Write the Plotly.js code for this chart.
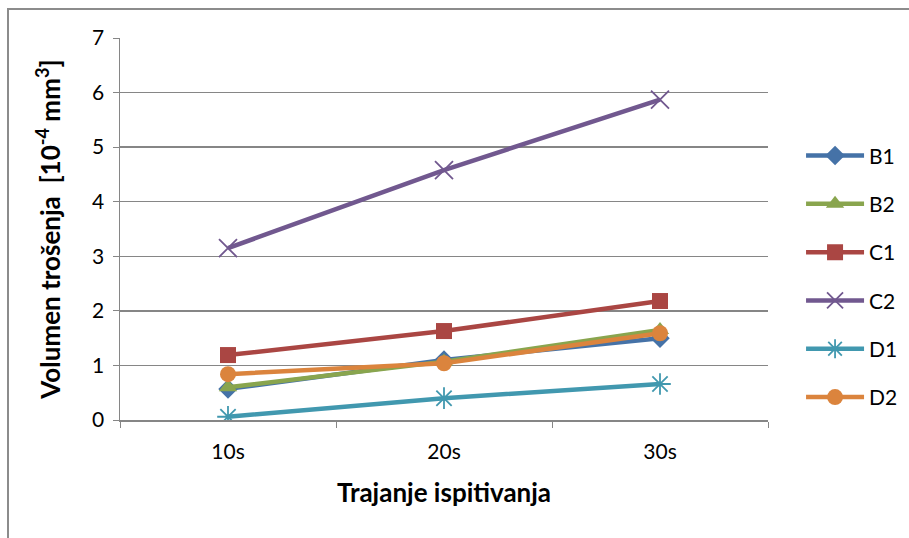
<!DOCTYPE html>
<html>
<head>
<meta charset="utf-8">
<script src="https://cdn.plot.ly/plotly-3.0.1.min.js"></script>
<style>
html,body{margin:0;padding:0;background:#fff;}
#frame{position:absolute;left:7px;top:8px;width:902px;height:530px;border-left:2px solid #8c8c8c;border-top:2px solid #8c8c8c;box-sizing:border-box;}
#chart{position:absolute;left:0;top:0;width:909px;height:538px;}
</style>
</head>
<body>
<div id="frame"></div>
<div id="chart"></div>
<script>
const categories = ["10s", "20s", "30s"];
const seriesNames = ["B1", "B2", "C1", "C2", "D1", "D2"];
const B1 = [0.57, 1.10, 1.50];
const B2 = [0.60, 1.07, 1.65];
const C1 = [1.19, 1.63, 2.18];
const C2 = [3.15, 4.58, 5.87];
const D1 = [0.06, 0.40, 0.66];
const D2 = [0.84, 1.04, 1.59];

const values = [B1, B2, C1, C2, D1, D2];
const colors = ["#4572A7", "#89A54E", "#AA4643", "#71588F", "#4198AF", "#DB843D"];
const symbols = ["diamond", "triangle-up", "square", "x-thin-open", "asterisk-open", "circle"];
const sizes = [15, 16, 16, 18, 18, 16];

const traces = seriesNames.map((n, i) => ({
  x: categories,
  y: values[i],
  name: n,
  type: "scatter",
  mode: "lines+markers",
  legendgroup: n,
  line: {color: colors[i], width: 4.5},
  marker: {
    symbol: symbols[i],
    size: sizes[i],
    color: colors[i],
    line: {color: colors[i], width: (i === 3 || i === 4) ? 1.8 : 0}
  }
}));

const font = "Lato, 'Liberation Sans', sans-serif";
const layout = {
  width: 909, height: 538,
  margin: {l: 120, r: 141, t: 38, b: 118, autoexpand: false},
  paper_bgcolor: "rgba(0,0,0,0)",
  plot_bgcolor: "rgba(0,0,0,0)",
  font: {family: font, size: 21, color: "#000"},
  showlegend: true,
  legend: {
    x: 1.051, xanchor: "left", y: 0.745, yanchor: "top",
    traceorder: "grouped", tracegroupgap: 18,
    font: {family: font, size: 21, color: "#000"},
    itemwidth: 58
  },
  xaxis: {
    type: "category",
    range: [-0.5, 2.5],
    showline: true, linecolor: "#868686", linewidth: 1.5,
    ticks: "outside", tickson: "boundaries", ticklen: 6, tickcolor: "#868686",
    showgrid: false,
    ticklabelstandoff: 12,
    tickfont: {size: 21},
    title: {text: "<b>Trajanje ispitivanja</b>", font: {size: 26}, standoff: 22}
  },
  yaxis: {
    range: [0, 7], dtick: 1,
    showline: true, linecolor: "#868686", linewidth: 1.5,
    ticks: "outside", ticklen: 6, tickcolor: "#868686",
    gridcolor: "#868686", gridwidth: 1.5,
    zeroline: false,
    ticklabelstandoff: 4,
    tickfont: {size: 21},
    title: {text: "<b>Volumen trošenja  [10<sup>-4</sup> mm<sup>3</sup>]</b>", font: {size: 26}, standoff: 24}
  }
};

Plotly.newPlot("chart", traces, layout, {displayModeBar: false, staticPlot: true});
</script>
</body>
</html>
